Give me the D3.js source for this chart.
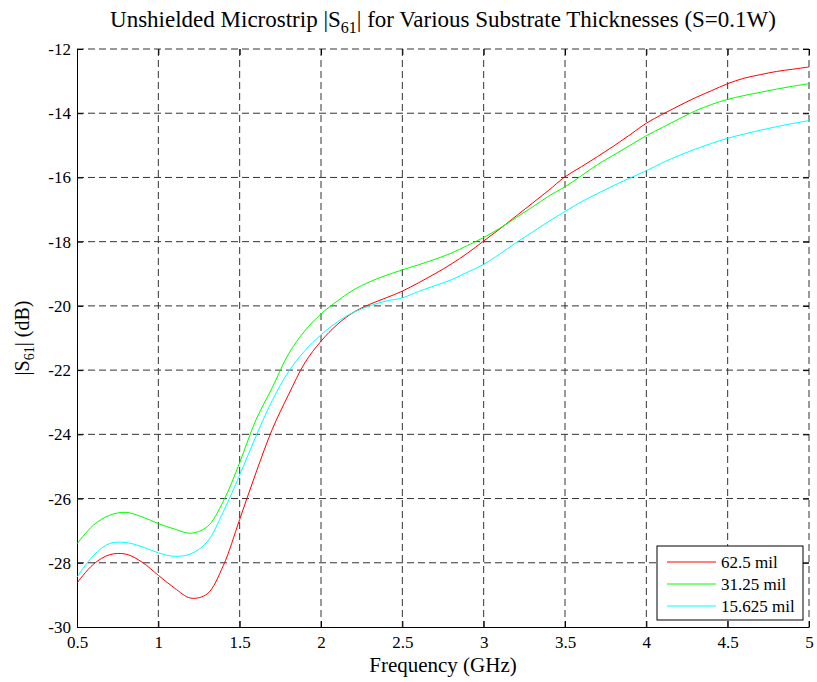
<!DOCTYPE html>
<html>
<head>
<meta charset="utf-8">
<script src="https://cdn.jsdelivr.net/npm/d3@7"></script>
<style>
  body { margin: 0; background: #fff; }
  text { font-family: "Liberation Serif", "Times New Roman", serif; fill: #000; }
</style>
</head>
<body>
<script>
// frequency samples (GHz)
var freq = [0.5, 0.6, 0.7, 0.8, 0.9, 1.0, 1.1, 1.2, 1.3, 1.4, 1.5, 1.6, 1.7, 1.8, 1.9, 2.0,
  2.1, 2.2, 2.3, 2.4, 2.5, 2.6, 2.7, 2.8, 2.9, 3.0, 3.1, 3.2, 3.3, 3.4, 3.5, 3.6, 3.7, 3.8,
  3.9, 4.0, 4.1, 4.2, 4.3, 4.4, 4.5, 4.6, 4.7, 4.8, 4.9, 5.0];

// |S61| in dB
var s625 = [-28.63, -28.05, -27.75, -27.73, -27.98, -28.39, -28.79, -29.1, -28.97, -28.08, -26.65,
  -25.2, -23.85, -22.77, -21.78, -21.1, -20.58, -20.2, -19.95, -19.75, -19.54, -19.28, -19.0,
  -18.7, -18.36, -17.98, -17.6, -17.2, -16.8, -16.4, -15.98, -15.67, -15.35, -15.02, -14.67,
  -14.31, -14.03, -13.77, -13.52, -13.3, -13.08, -12.91, -12.8, -12.7, -12.63, -12.56];

var s3125 = [-27.41, -26.83, -26.52, -26.43, -26.57, -26.78, -26.95, -27.08, -26.88, -26.08, -24.88,
  -23.55, -22.55, -21.5, -20.78, -20.25, -19.85, -19.5, -19.25, -19.05, -18.88, -18.72, -18.55,
  -18.36, -18.12, -17.87, -17.58, -17.25, -16.92, -16.58, -16.29, -15.95, -15.6, -15.3, -15.0,
  -14.7, -14.44, -14.18, -13.93, -13.73, -13.57, -13.45, -13.35, -13.25, -13.16, -13.08];

var s15625 = [-28.45, -27.78, -27.4, -27.37, -27.5, -27.69, -27.8, -27.72, -27.35, -26.4, -25.27,
  -24.06, -22.95, -22.05, -21.4, -20.9, -20.5, -20.2, -20.0, -19.85, -19.75, -19.55, -19.37,
  -19.19, -18.95, -18.71, -18.38, -18.03, -17.7, -17.37, -17.06, -16.76, -16.5, -16.25, -16.02,
  -15.79, -15.54, -15.32, -15.12, -14.94, -14.78, -14.65, -14.53, -14.42, -14.32, -14.23];

var seriesNames = ["62.5 mil", "31.25 mil", "15.625 mil"];
var seriesColors = ["#ff0000", "#00ff00", "#00ffff"];
var seriesValues = [s625, s3125, s15625];

var xTicks = [0.5, 1, 1.5, 2, 2.5, 3, 3.5, 4, 4.5, 5];
var yTicks = [-30, -28, -26, -24, -22, -20, -18, -16, -14, -12];

var width = 817,
  height = 682;
var margin = { left: 77, right: 8, top: 49, bottom: 55 };
var plotW = width - margin.left - margin.right,
  plotH = height - margin.top - margin.bottom;
var serif = "'Liberation Serif', 'Times New Roman', serif";

var svg = d3.select("body").append("svg")
  .attr("width", width)
  .attr("height", height);

var x = d3.scaleLinear().domain([0.5, 5]).range([0, plotW]);
var y = d3.scaleLinear().domain([-30, -12]).range([plotH, 0]);

var g = svg.append("g")
  .attr("transform", "translate(" + margin.left + "," + margin.top + ")");

//---------------------------------- grid ----------------------------------//
// interior grid plus the top and right edges, which are dashed in the reference
g.append("g").selectAll("line")
  .data(xTicks.slice(1))
  .enter().append("line")
  .attr("x1", d => x(d)).attr("x2", d => x(d))
  .attr("y1", 0).attr("y2", plotH)
  .attr("stroke", "#333").attr("stroke-width", 1)
  .attr("stroke-dasharray", "7,4");

g.append("g").selectAll("line")
  .data(yTicks.slice(1))
  .enter().append("line")
  .attr("x1", 0).attr("x2", plotW)
  .attr("y1", d => y(d)).attr("y2", d => y(d))
  .attr("stroke", "#333").attr("stroke-width", 1)
  .attr("stroke-dasharray", "7,4");

//---------------------------------- axes ----------------------------------//
var xAxis = g.append("g")
  .attr("transform", "translate(0," + plotH + ")")
  .call(d3.axisBottom(x).tickValues(xTicks).tickSizeInner(-6).tickSizeOuter(0).tickPadding(9)
    .tickFormat(d3.format("")));
var yAxis = g.append("g")
  .call(d3.axisLeft(y).tickValues(yTicks).tickSizeInner(-6).tickSizeOuter(0).tickPadding(6)
    .tickFormat(d => d));
var xAxisTop = g.append("g")
  .call(d3.axisTop(x).tickValues(xTicks).tickSizeInner(-6).tickSizeOuter(0).tickFormat(""));
var yAxisRight = g.append("g")
  .attr("transform", "translate(" + plotW + ",0)")
  .call(d3.axisRight(y).tickValues(yTicks).tickSizeInner(-6).tickSizeOuter(0).tickFormat(""));

xAxisTop.select(".domain").remove();
yAxisRight.select(".domain").remove();

[xAxis, yAxis, xAxisTop, yAxisRight].forEach(function (a) {
  a.attr("font-family", serif).attr("font-size", 17);
  a.select(".domain").attr("stroke", "#000");
  a.selectAll(".tick line").attr("stroke", "#000");
  a.selectAll("text")
    .style("font-family", serif)
    .style("font-size", "17px")
    .attr("fill", "#000");
});

//---------------------------------- curves ----------------------------------//
var line = d3.line()
  .x(d => x(d[0]))
  .y(d => y(d[1]))
  .curve(d3.curveCatmullRom);

seriesValues.forEach(function (vals, i) {
  g.append("path")
    .datum(freq.map((f, j) => [f, vals[j]]))
    .attr("fill", "none")
    .attr("stroke", seriesColors[i])
    .attr("stroke-width", 1)
    .attr("d", line);
});

//---------------------------------- legend ----------------------------------//
var legend = svg.append("g").attr("transform", "translate(657,546)");
legend.append("rect")
  .attr("width", 146).attr("height", 74)
  .attr("fill", "#fff").attr("stroke", "#000").attr("stroke-width", 1);
seriesNames.forEach(function (name, i) {
  var ly = 16 + i * 22;
  legend.append("line")
    .attr("x1", 10).attr("x2", 59)
    .attr("y1", ly).attr("y2", ly)
    .attr("stroke", seriesColors[i]).attr("stroke-width", 1);
  legend.append("text")
    .attr("x", 64).attr("y", ly + 6)
    .style("font-size", "17px")
    .text(name);
});

//---------------------------------- labels ----------------------------------//
var title = svg.append("text")
  .attr("x", margin.left + plotW / 2).attr("y", 27)
  .attr("text-anchor", "middle")
  .style("font-size", "23px");
title.append("tspan").text("Unshielded Microstrip |S");
title.append("tspan").attr("dy", 6).style("font-size", "16px").text("61");
title.append("tspan").attr("dy", -6).text("| for Various Substrate Thicknesses (S=0.1W)");

svg.append("text")
  .attr("x", margin.left + plotW / 2).attr("y", 672)
  .attr("text-anchor", "middle")
  .style("font-size", "21px")
  .text("Frequency (GHz)");

var ylab = svg.append("text")
  .attr("transform", "translate(29," + (margin.top + plotH / 2) + ") rotate(-90)")
  .attr("text-anchor", "middle")
  .style("font-size", "20px");
ylab.append("tspan").text("|S");
ylab.append("tspan").attr("dy", 5).style("font-size", "14px").text("61");
ylab.append("tspan").attr("dy", -5).text("| (dB)");
</script>
</body>
</html>
